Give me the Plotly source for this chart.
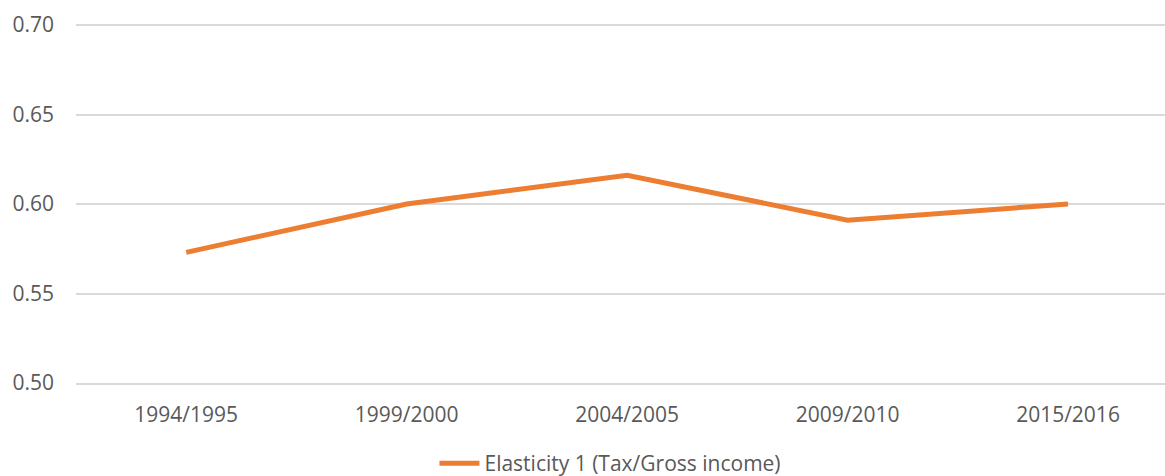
import plotly.graph_objects as go

categories = ["1994/1995", "1999/2000", "2004/2005", "2009/2010", "2015/2016"]
elasticity_1 = [0.573, 0.600, 0.616, 0.591, 0.600]
series_name = "Elasticity 1 (Tax/Gross income)"
y_ticks = [0.50, 0.55, 0.60, 0.65, 0.70]
y_tick_labels = ["0.50", "0.55", "0.60", "0.65", "0.70"]

FONT = "Open Sans"
GRAY = "#595959"
GRID = "#d9d9d9"

fig = go.Figure()
fig.add_trace(go.Scatter(
    x=list(range(len(categories))),
    y=elasticity_1,
    mode="lines",
    name=series_name,
    line=dict(color="#ED7D31", width=5),
))

fig.update_layout(
    width=1165,
    height=476,
    margin=dict(l=76, r=0, t=20, b=93, autoexpand=False),
    paper_bgcolor="white",
    plot_bgcolor="white",
    font=dict(family=FONT, size=21, color=GRAY),
    showlegend=True,
    legend=dict(
        orientation="h",
        x=0.524, xanchor="center", xref="container",
        y=0.026, yanchor="middle", yref="container",
        font=dict(family=FONT, size=21, color=GRAY),
        itemwidth=40,
    ),
    xaxis=dict(
        tickmode="array",
        tickvals=list(range(len(categories))),
        ticktext=categories,
        range=[-0.5, 4.44],
        showgrid=False,
        zeroline=False,
        showline=True,
        linecolor=GRID,
        linewidth=1.5,
        ticks="",
        ticklabelstandoff=12,
        tickfont=dict(family=FONT, size=21, color=GRAY),
    ),
    yaxis=dict(
        range=[0.5, 0.7028],
        tickmode="array",
        tickvals=y_ticks,
        ticktext=y_tick_labels,
        showgrid=True,
        gridcolor=GRID,
        gridwidth=1.5,
        zeroline=False,
        showline=False,
        ticks="",
        ticklabelstandoff=21,
        tickfont=dict(family=FONT, size=21, color=GRAY),
    ),
)

fig.write_html("out.html")
